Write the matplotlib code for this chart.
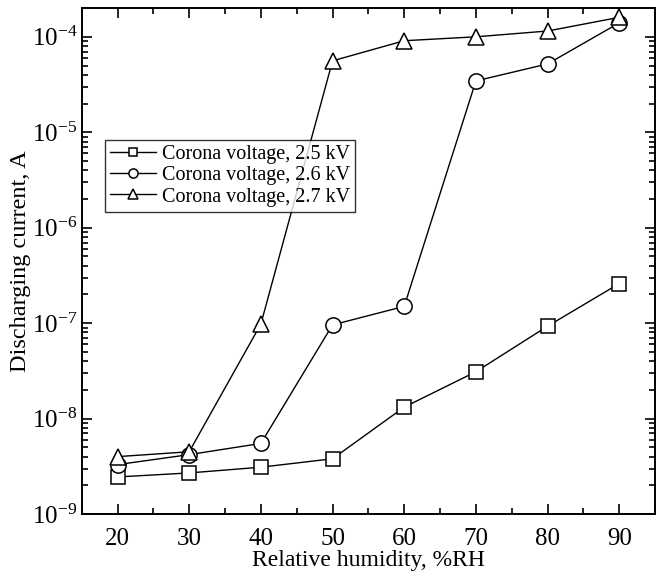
import matplotlib
matplotlib.use('Agg')
import matplotlib.pyplot as plt
from matplotlib.ticker import LogLocator, MultipleLocator, NullFormatter, LogFormatterMathtext

plt.rcParams['font.family'] = 'Liberation Serif'
plt.rcParams['mathtext.fontset'] = 'custom'
plt.rcParams['mathtext.rm'] = 'Liberation Serif'
plt.rcParams['mathtext.it'] = 'Liberation Serif:italic'

humidity = [20, 30, 40, 50, 60, 70, 80, 90]
current_25kv = [2.45e-9, 2.7e-9, 3.1e-9, 3.8e-9, 1.32e-8, 3.1e-8, 9.3e-8, 2.6e-7]
current_26kv = [3.3e-9, 4.2e-9, 5.5e-9, 9.6e-8, 1.5e-7, 3.45e-5, 5.2e-5, 1.4e-4]
current_27kv = [4.0e-9, 4.5e-9, 9.8e-8, 5.6e-5, 9.1e-5, 1.0e-4, 1.15e-4, 1.6e-4]
labels = ['Corona voltage, 2.5 kV', 'Corona voltage, 2.6 kV', 'Corona voltage, 2.7 kV']

fig = plt.figure(figsize=(6.59, 5.77), dpi=100)
ax = fig.add_axes([0.124, 0.109, 0.870, 0.877])

style = dict(color='black', lw=1, mfc='white', mec='black', mew=1.1)
ax.plot(humidity, current_25kv, marker='s', ms=10, label=labels[0], **style)
ax.plot(humidity, current_26kv, marker='o', ms=11, label=labels[1], **style)
ax.plot(humidity, current_27kv, marker='^', ms=12, label=labels[2], **style)

ax.set_yscale('log')
ax.set_xlim(15, 95)
ax.set_ylim(1e-9, 2e-4)
ax.xaxis.set_major_locator(MultipleLocator(10))
ax.xaxis.set_minor_locator(MultipleLocator(5))
ax.yaxis.set_major_locator(LogLocator(base=10, numticks=20))
ax.yaxis.set_major_formatter(LogFormatterMathtext())
ax.yaxis.set_minor_locator(LogLocator(base=10, subs=range(2, 10), numticks=20))
ax.yaxis.set_minor_formatter(NullFormatter())

ax.tick_params(which='both', direction='in', top=True, right=True, width=1.2)
ax.tick_params(which='major', length=7, labelsize=18)
ax.tick_params(axis='x', which='major', pad=10)
ax.tick_params(axis='y', which='major', pad=3)
ax.tick_params(which='minor', length=4)
for s in ax.spines.values():
    s.set_linewidth(1.4)

ax.set_xlabel('Relative humidity, %RH', fontsize=17)
ax.set_ylabel('Discharging current, A', fontsize=17.5)
ax.xaxis.set_label_coords(0.5, -0.07)
ax.yaxis.set_label_coords(-0.088, 0.5)

leg = ax.legend(loc='upper left', bbox_to_anchor=(0.04, 0.739), fontsize=14.5,
                frameon=True, fancybox=False, edgecolor='black', handlelength=2.3,
                handletextpad=0.3, borderpad=0.25, labelspacing=0.1, markerscale=0.6,
                borderaxespad=0)
leg.get_frame().set_linewidth(1.0)

fig.savefig('out.png', dpi=100)
